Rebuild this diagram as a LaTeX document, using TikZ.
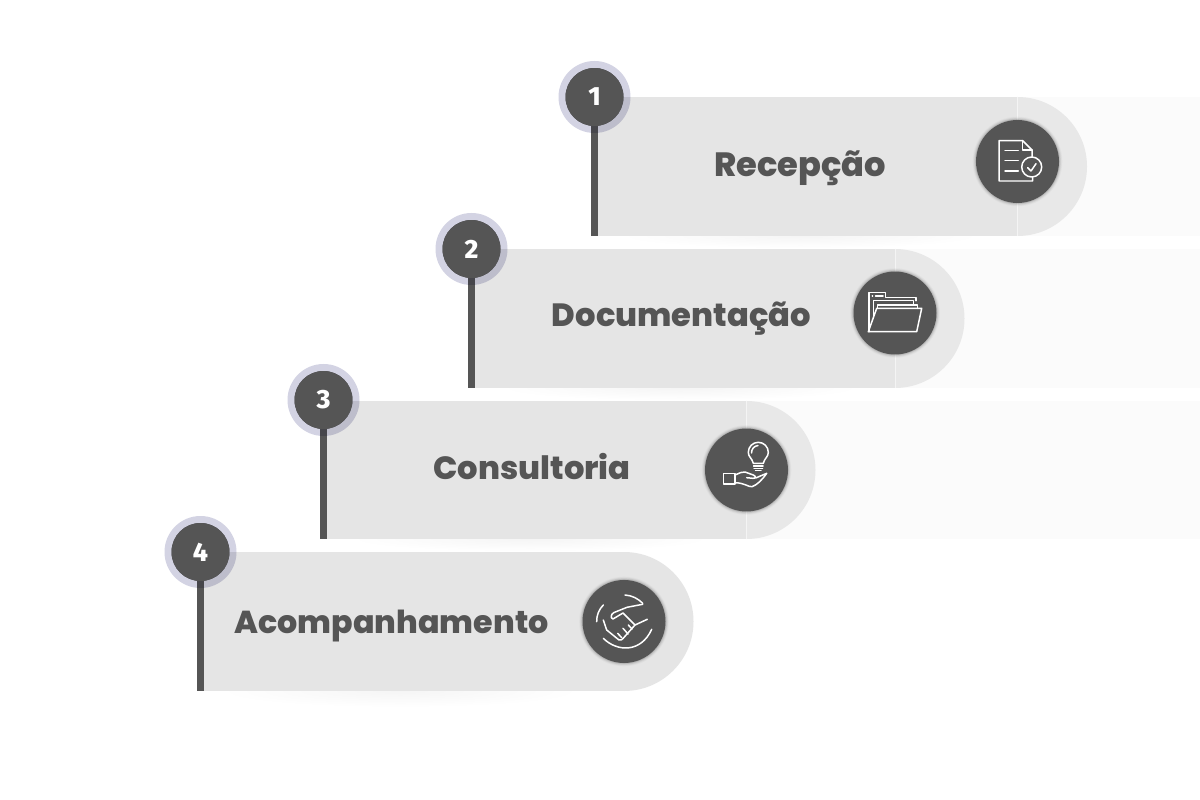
\documentclass[tikz,border=0pt]{standalone}
\usepackage{fontspec}
\usepackage{tikz}
\usetikzlibrary{shadows}
\setmainfont{Poppins}
\newfontfamily\titlefont{Poppins}[UprightFont=* ExtraBold]
\newfontfamily\numberfont{Fira Sans}[UprightFont=* ExtraBold]
\definecolor{darkgrey}{HTML}{555555}
\definecolor{bandgrey}{HTML}{E5E5E5}
\definecolor{capgrey}{HTML}{E8E8E8}
\definecolor{faintgrey}{HTML}{FBFBFB}
\definecolor{halogrey}{HTML}{D3D3E3}
\definecolor{softgrey}{HTML}{F5F5F5}
\tikzset{
	bandfill/.style={fill=bandgrey},
	capfill/.style={fill=capgrey},
	tailfill/.style={fill=faintgrey},
	softshade/.style={inner color=softgrey,outer color=white},
	splitline/.style={draw=faintgrey!70!bandgrey,line width=0.5pt},
	halodisc/.style={fill=halogrey,blend mode=multiply},
	numdisc/.style={circle,fill=darkgrey,minimum size=1.16cm,inner sep=0pt,text=white,font=\numberfont\fontsize{15}{15}\selectfont},
	stemline/.style={draw=darkgrey,line width=0.14cm},
	titletext/.style={anchor=base,text=darkgrey,inner sep=0pt,font=\titlefont\fontsize{#1}{20}\selectfont},
	icondisc/.style={circle,fill=darkgrey,minimum size=1.66cm,inner sep=0pt,
		general shadow={fill=darkgrey,opacity=.04,shadow scale=1.08},
		general shadow={fill=darkgrey,opacity=.07,shadow scale=1.06},
		general shadow={fill=darkgrey,opacity=.10,shadow scale=1.04},
		general shadow={fill=darkgrey,opacity=.16,shadow scale=1.02}},
	iconline/.style={draw=white,line width=0.85pt,line cap=round,line join=round}
}
\begin{document}
\begin{tikzpicture}[x=0.02cm,y=-0.02cm]
	\useasboundingbox (0,0) rectangle (1200,800);
	\fill[white] (0,0) rectangle (1200,800);
	
	% Faint tails running off to the right
	\fill[tailfill] (1017,97) rectangle (1200,236);
	\fill[tailfill] (895,249) rectangle (1200,388);
	\fill[tailfill] (746,401) rectangle (1200,539);
	
	% Soft shade under the bands
	\shade[softshade] (800,236) ellipse (180 and 12);
	\shade[softshade] (680,388) ellipse (180 and 12);
	\shade[softshade] (530,539) ellipse (180 and 12);
	\shade[softshade] (400,691) ellipse (180 and 16);
	
	% Band 1
	\fill[capfill] (1017.5,97) arc (-90:90:69.5) -- cycle;
	\fill[bandfill] (594,97) rectangle (1017.5,236);
	\draw[splitline] (1017.5,97) -- (1017.5,236);
	\coordinate (stemenda) at (594.5,236);
	
	% Band 2
	\fill[capfill] (895,249) arc (-90:90:69.5) -- cycle;
	\fill[bandfill] (472,249) rectangle (895,388);
	\draw[splitline] (895,249) -- (895,388);
	\coordinate (stemendb) at (471.5,388);
	
	% Band 3
	\fill[capfill] (746.5,401) arc (-90:90:69) -- cycle;
	\fill[bandfill] (324,401) rectangle (746.5,539);
	\draw[splitline] (746.5,401) -- (746.5,539);
	\coordinate (stemendc) at (323.5,539);
	
	% Band 4
	\fill[bandfill] (624,552) arc (-90:90:69.5) -- cycle;
	\fill[bandfill] (201,552) rectangle (624,691);
	\coordinate (stemendd) at (200.5,691);
	
	% Titles
	\node[titletext=19.15] (titlea) at (800,176.5) {Recepção};
	\node[titletext=18.3] (titleb) at (681.5,327) {Documentação};
	\node[titletext=18.3] (titlec) at (532,479) {Consultoria};
	\node[titletext=18.05] (titled) at (391.5,633.5) {Acompanhamento};
	
	% Number discs with their stems
	\node[numdisc] (numa) at (594.5,97) {1};
	\node[numdisc] (numb) at (471.5,249) {2};
	\node[numdisc] (numc) at (323.5,400) {3};
	\node[numdisc] (numd) at (200.5,552) {4};
	\draw[stemline] (numa) -- (stemenda);
	\draw[stemline] (numb) -- (stemendb);
	\draw[stemline] (numc) -- (stemendc);
	\draw[stemline] (numd) -- (stemendd);
	\fill[halodisc] (numa) circle (36);
	\fill[halodisc] (numb) circle (36);
	\fill[halodisc] (numc) circle (36);
	\fill[halodisc] (numd) circle (36);
	\node[numdisc] at (numa) {1};
	\node[numdisc] at (numb) {2};
	\node[numdisc] at (numc) {3};
	\node[numdisc] at (numd) {4};
	
	% Icon discs
	\node[icondisc] (icona) at (1017.5,161.5) {};
	\node[icondisc] (iconb) at (895,313) {};
	\node[icondisc] (iconc) at (746.5,470) {};
	\node[icondisc] (icond) at (624,621.5) {};
	
	% Document with check mark
	\draw[iconline] (1032,156.7) -- (1032,150) -- (1022.7,140.7) -- (999,140.7) -- (999,181) -- (1032.7,181) -- (1032.7,177);
	\draw[iconline] (1022.7,140.7) -- (1022.7,150) -- (1032,150);
	\draw[iconline] (1005,150.3) -- (1018.3,150.3);
	\draw[iconline] (1005,160.7) -- (1018.3,160.7);
	\draw[iconline] (1005,171) -- (1018.3,171);
	\draw[iconline] (1031.7,167) circle (10);
	\draw[iconline] (1027.7,167.7) -- (1031,171) -- (1036,163.7);
	
	% Folder
	\draw[iconline] (869,331.7) -- (869,292.7) -- (885.7,292.7) -- (885.7,297.7) -- (916,297.7) -- (916,300.7);
	\draw[iconline] (873.3,318) -- (873.3,300.7) -- (913.3,300.7) -- (913.3,305);
	\draw[iconline] (877.7,308.3) -- (877.7,305) -- (917.3,305) -- (917.3,308.3);
	\draw[iconline] (868.3,331.7) -- (916.7,331.7) -- (921.7,308.3) -- (876.7,308.3) -- cycle;
	\draw[iconline] (872.3,296) -- (872.6,296);
	\draw[iconline] (875.5,296) -- (883,296);
	
	% Hand holding a bulb
	\draw[iconline] (753.3,463.3) .. controls (752,458) and (748.3,457) .. (748.3,452.3) arc (180:360:10) .. controls (768.3,457) and (764.6,458) .. (763.3,463.3) -- cycle;
	\draw[iconline] (753.6,466) -- (763,466);
	\draw[iconline] (754,468.3) -- (762.6,468.3);
	\draw[iconline] (755.5,470.5) -- (761,470.5);
	\draw[iconline] (751.5,453) .. controls (751.5,449) and (754,446) .. (758,445.5);
	\draw[iconline] (723.3,473.3) rectangle (735,484);
	\draw[iconline] (735,475) .. controls (740,473) and (742,471.5) .. (745,472) -- (753.3,475) .. controls (756,476) and (756,478.5) .. (753,478.3) -- (746.7,477.7);
	\draw[iconline] (755.7,478) -- (766.7,473.3) .. controls (762,480) and (757,485) .. (752,486.7) .. controls (748,487) and (745,483) .. (735,482.7);
	
	% Handshake
	\draw[iconline] (625,595) .. controls (632,595.5) and (638,598.5) .. (642.7,603.3);
	\draw[iconline] (596.7,621.7) .. controls (596.5,615) and (599,609.5) .. (603.3,605);
	\draw[iconline] (603.3,638.3) .. controls (617,652) and (641,653) .. (651.7,629.3);
	\draw[iconline] (642.7,604.3) -- (627,607.3) -- (614,612.5) .. controls (611,614) and (610,618) .. (613,619) -- (623,613) -- (635,625) -- (647.3,619.3);
	\draw[iconline] (603.3,620) -- (606.7,630) -- (619,640) .. controls (621,640.5) and (622,639.5) .. (623,638.5) -- (635,625);
	\draw[iconline] (617.7,633.3) -- (621.7,637.7);
	\draw[iconline] (623,628.3) -- (628,634);
	\draw[iconline] (628.3,625) -- (632,629);
\end{tikzpicture}
\end{document}
